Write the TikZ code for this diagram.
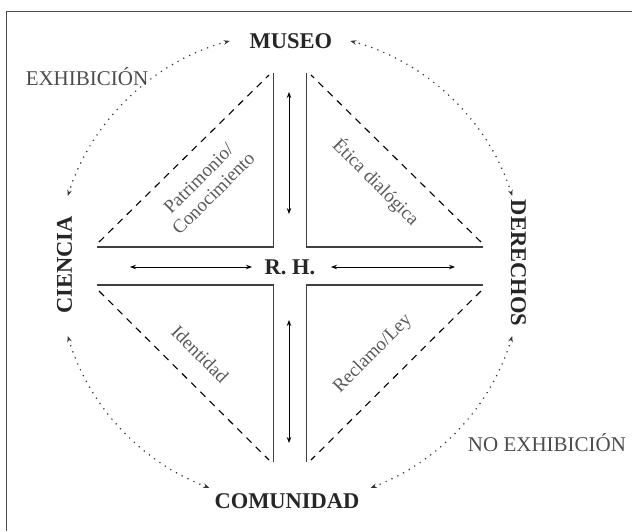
\documentclass[tikz,border=0pt]{standalone}
\usepackage{fontspec}
\setmainfont{Liberation Serif}
\usetikzlibrary{arrows.meta}

\begin{document}
\begin{tikzpicture}[x=1pt,y=1pt,>={Stealth[length=6pt,width=4.5pt]},
  big/.style={font=\fontsize{22.5}{24}\selectfont\bfseries,text=black!85,inner sep=0pt},
  tag/.style={font=\fontsize{21}{24}\selectfont,text=black!70,inner sep=0pt},
  inner/.style={font=\fontsize{19}{21}\selectfont,text=black!65,align=center,inner sep=0pt},
  wall/.style={line width=1.3pt,black!75},
  edgeline/.style={line width=1.1pt,dash pattern=on 7pt off 6pt},
  dots/.style={<->,line width=1.7pt,black!80,dash pattern=on 0pt off 6.5pt,line cap=round},
  dbl/.style={<->,line width=0.9pt}]

\useasboundingbox (-290,-265) rectangle (342,266);
\draw[line width=1pt,black!70] (-283,-265) -- (-283,255) -- (342,255);

\node[big,anchor=base] (museo) at (1,218) {MUSEO};
\node[big,anchor=base] (comunidad) at (-3,-242) {COMUNIDAD};
\node[big,anchor=base,rotate=90] (ciencia) at (-218,1) {CIENCIA};
\node[big,anchor=base,rotate=-90] (derechos) at (221,3) {DERECHOS};
\node[big] (rh) at (0,-1.5) {R. H.};

\node[tag,anchor=base] (exhib) at (-203,181) {EXHIBICIÓN};
\node[tag,anchor=base] (noexhib) at (257,-185) {NO EXHIBICIÓN};

\node[inner,rotate=45] (patrimonio) at (-84,80) {Patrimonio/\\Conocimiento};
\node[inner,rotate=-45] (etica) at (86,84) {Ética dialógica};
\node[inner,rotate=-45] (identidad) at (-90,-88) {Identidad};
\node[inner,rotate=45] (reclamo) at (83,-88) {Reclamo/Ley};

\draw[wall] (-193,19) -- (-16.5,19) -- (-16.5,193);
\draw[wall] (193,19) -- (16.5,19) -- (16.5,193);
\draw[wall] (-193,-19) -- (-16.5,-19) -- (-16.5,-196);
\draw[wall] (193,-19) -- (16.5,-19) -- (16.5,-196);

\draw[edgeline] (-191,24) -- (-21,191);
\draw[edgeline] (191,24) -- (21,191);
\draw[edgeline] (-191,-25) -- (-21,-194);
\draw[edgeline] (191,-25) -- (21,-194);

\coordinate (up1) at (-1,174);
\coordinate (up2) at (-1,52);
\coordinate (dn1) at (-1,-54);
\coordinate (dn2) at (-1,-177);
\coordinate (lf1) at (-160,-1);
\coordinate (lf2) at (-38,-1);
\coordinate (rt1) at (41,-1);
\coordinate (rt2) at (165,-1);

\draw[dbl] (up1) -- (up2);
\draw[dbl] (dn1) -- (dn2);
\draw[dbl] (lf1) -- (lf2);
\draw[dbl] (rt1) -- (rt2);

\coordinate (museoL) at (105:233);
\coordinate (cienciaT) at (162.5:233);
\coordinate (cienciaB) at (197.5:233);
\coordinate (comL) at (250:236);
\coordinate (comR) at (290:236);
\coordinate (derB) at (342.5:233);
\coordinate (derT) at (17.5:233);
\coordinate (museoR) at (75:233);

\draw[dots] (museoL) to[bend right=28.75,looseness=0.9] (cienciaT);
\draw[dots] (cienciaB) to[bend right=26.25,looseness=0.9] (comL);
\draw[dots] (comR) to[bend right=26.25,looseness=0.9] (derB);
\draw[dots] (derT) to[bend right=28.75,looseness=0.9] (museoR);

\end{tikzpicture}
\end{document}
